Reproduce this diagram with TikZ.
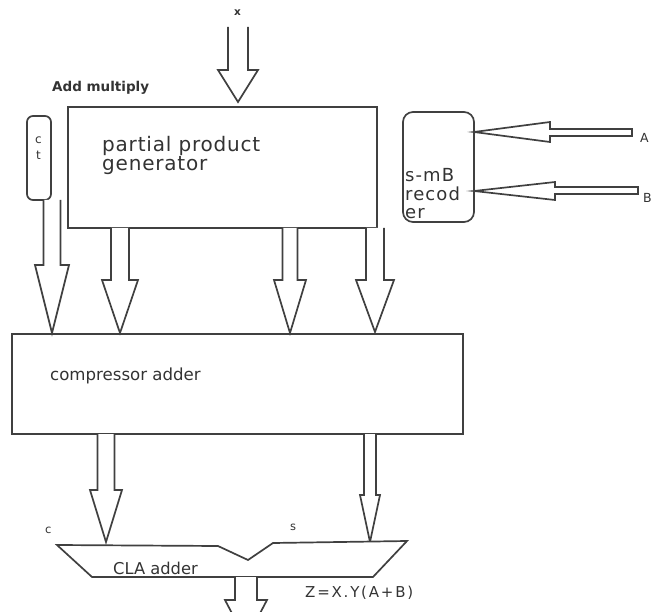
\documentclass[tikz,border=0pt]{standalone}
\usepackage{fontspec}
\setmainfont{DejaVu Sans}
\newfontfamily\wa[LetterSpace=4]{DejaVu Sans}
\newfontfamily\wc[LetterSpace=6]{DejaVu Sans}
\newfontfamily\wz[LetterSpace=12]{DejaVu Sans}
\begin{document}
\begin{tikzpicture}[x=1pt,y=-1pt,
  ln/.style={draw=black!75,line width=1.7pt,line join=miter},
  arr/.style={ln,fill=white},
  boxs/.style={ln,fill=white,inner sep=0pt},
  lbl/.style={text=black!80,inner sep=0pt,anchor=base west}]
\useasboundingbox (0,0) rectangle (656,612);
\clip (0,0) rectangle (656,612);
\newcommand\darrow[6]{\draw[arr] ({#1-#5},#2) -- ({#1-#5},#3) -- ({#1-#6},#3) -- (#1,#4) -- ({#1+#6},#3) -- ({#1+#5},#3) -- ({#1+#5},#2);}
% boxes
\draw[boxs] (68,107) rectangle (377,228);
\node[inner sep=0pt] (ppg) at (222,167) {};
\draw[ln,rounded corners=6pt] (27,116) rectangle (51,200);
\node[inner sep=0pt] (ct) at (39,158) {};
\draw[ln,rounded corners=10pt] (403,112) rectangle (474,222);
\node[inner sep=0pt] (rec) at (438,167) {};
\draw[boxs] (12,334) rectangle (463,434);
\node[inner sep=0pt] (comp) at (237,384) {};
% labels
\node[lbl,font=\fontsize{10.5}{11}\selectfont\bfseries] (xl) at (234,16) {x};
\node[lbl,font=\fontsize{13.5}{15}\selectfont\bfseries] (am) at (52,92) {Add multiply};
\node[lbl,font=\fontsize{20}{22}\selectfont\wa] (pp1) at (102,152) {partial product};
\node[lbl,font=\fontsize{20}{22}\selectfont\wa] (pp2) at (102,171) {generator};
\node[lbl,font=\fontsize{12}{12}\selectfont] (c1) at (35,144) {c};
\node[lbl,font=\fontsize{12}{12}\selectfont] (t1) at (36,160) {t};
\node[lbl,font=\fontsize{18}{19}\selectfont\wc] (r1) at (405,182) {s-mB};
\node[lbl,font=\fontsize{18}{19}\selectfont\wc] (r2) at (405,201) {recod};
\node[lbl,font=\fontsize{18}{19}\selectfont\wc] (r3) at (405,219) {er};
\node[lbl,font=\fontsize{12.5}{12}\selectfont] (al) at (640,143) {A};
\node[lbl,font=\fontsize{12.5}{12}\selectfont] (bl) at (643,203) {B};
\node[lbl,font=\fontsize{16.6}{18}\selectfont] (ca) at (50,380) {compressor adder};
\node[lbl,font=\fontsize{11.5}{12}\selectfont] (cl) at (45,533) {c};
\node[lbl,font=\fontsize{11.5}{12}\selectfont] (sl) at (290,530) {s};
\node[lbl,font=\fontsize{15}{16}\selectfont\wz] (z) at (305,597) {Z=X.Y(A+B)};
% X arrow
\darrow{238}{27}{70}{102}{10}{20}
% A and B arrows
\draw[arr] (474,132) -- (550,122) -- (550,129) -- (632,129) -- (632,136) -- (550,136) -- (550,142) -- cycle;
\draw[arr] (474,191) -- (555,182) -- (555,187) -- (638,187) -- (638,194) -- (555,194) -- (555,200) -- cycle;
% PPG to compressor arrows
\darrow{52}{200}{265}{333}{8.5}{17}
\darrow{120}{228}{280}{333}{9}{18}
\darrow{290}{228}{280}{333}{7.5}{16}
\darrow{375}{228}{280}{332}{9}{19}
% compressor to CLA arrows
\darrow{106}{434}{490}{542}{8.5}{16}
\darrow{370}{434}{495}{542}{6}{10}
% CLA adder shape
\draw[arr] (57,545) -- (218,546) -- (248,560) -- (273,543) -- (407,541) -- (373,577) -- (92,577) -- cycle;
\node[lbl,font=\fontsize{16.3}{18}\selectfont] (cla) at (113,574) {CLA adder};
% output arrow
\darrow{246}{577}{600}{640}{11}{21}
\end{tikzpicture}
\end{document}
